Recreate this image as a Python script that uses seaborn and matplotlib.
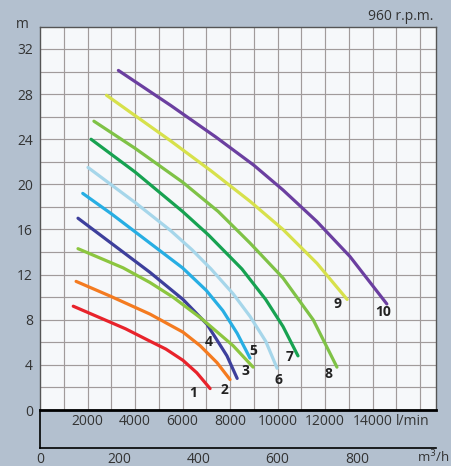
import numpy as np
import pandas as pd
import seaborn as sns
import matplotlib.pyplot as plt

# pump curves: flow in l/min, head in m
q1 = [1400, 2500, 3600, 4630, 5300, 6020, 6600, 7160]
h1 = [9.2, 8.2, 7.2, 6.1, 5.4, 4.4, 3.3, 1.9]
q2 = [1520, 2950, 4630, 6020, 6740, 7450, 8000]
h2 = [11.4, 10.1, 8.5, 6.9, 5.7, 4.2, 2.7]
q3 = [1600, 2800, 4000, 4630, 6020, 7030, 7870, 8300]
h3 = [17.0, 15.1, 13.2, 12.2, 9.8, 7.6, 4.8, 2.8]
q4 = [1600, 3500, 4630, 5600, 6800, 8130, 8970]
h4 = [14.3, 12.6, 11.3, 10.0, 8.1, 5.7, 3.8]
q5 = [1800, 3000, 4000, 5000, 6000, 7000, 7700, 8300, 8840]
h5 = [19.2, 17.4, 15.8, 14.2, 12.6, 10.6, 8.8, 6.8, 4.6]
q6 = [2020, 4000, 5500, 6400, 7200, 8130, 8840, 9500, 9980]
h6 = [21.5, 18.4, 15.9, 14.2, 12.5, 10.3, 8.3, 6.1, 3.7]
q7 = [2150, 4000, 6000, 7100, 8500, 9500, 10230, 10860]
h7 = [24.0, 21.1, 17.6, 15.5, 12.5, 9.8, 7.4, 4.8]
q8 = [2270, 4000, 6000, 7500, 8840, 10230, 11500, 12500]
h8 = [25.6, 23.2, 20.2, 17.6, 14.8, 11.7, 8.0, 3.8]
q9 = [2800, 4000, 5470, 7200, 8840, 10230, 11660, 12930]
h9 = [27.9, 26.1, 23.9, 21.2, 18.5, 16.0, 13.0, 9.8]
q10 = [3300, 5500, 7400, 9000, 10230, 11660, 13050, 14600]
h10 = [30.1, 27.0, 24.2, 21.7, 19.5, 16.7, 13.6, 9.4]

curve_names = ["1", "2", "3", "4", "5", "6", "7", "8", "9", "10"]
curve_colors = ["#e8232b", "#f47b20", "#3d3f9c", "#8cc63f", "#27aee3",
                "#a6d6ea", "#17a251", "#7fc246", "#d7e14b", "#6b3fa0"]

# where the curve numbers sit (l/min, m)
label_q = [6440, 7750, 8630, 7120, 8970, 10060, 10490, 12130, 12520, 14440]
label_h = [1.5, 1.8, 3.5, 6.0, 5.2, 2.7, 4.7, 3.2, 9.4, 8.7]

lmin_ticks = [2000, 4000, 6000, 8000, 10000, 12000, 14000]
m3h_ticks = [0, 200, 400, 600, 800]
head_ticks = [0, 4, 8, 12, 16, 20, 24, 28, 32]

flows = [q1, q2, q3, q4, q5, q6, q7, q8, q9, q10]
heads = [h1, h2, h3, h4, h5, h6, h7, h8, h9, h10]
rows = []
for name, q, h in zip(curve_names, flows, heads):
    for a, b in zip(q, h):
        rows.append({"curve": name, "flow": a, "head": b})
df = pd.DataFrame(rows)

sns.set_style("white")
plt.rcParams["font.family"] = ["Open Sans", "DejaVu Sans"]

bg = "#b3c0cf"
fig = plt.figure(figsize=(4.51, 4.66), dpi=100, facecolor=bg)
ax = fig.add_axes([40 / 451, 1 - 410 / 466, 396 / 451, 383 / 466])
ax.set_facecolor("#f6f8fa")

sns.lineplot(data=df, x="flow", y="head", hue="curve", hue_order=curve_names,
             palette=curve_colors, sort=False, estimator=None, lw=2.3,
             legend=False, ax=ax, zorder=3)

ax.set_xlim(0, 16670)
ax.set_ylim(0, 33.95)
ax.set_xlabel("")
ax.set_ylabel("")

# grid every 1000 l/min and every 2 m
ax.set_xticks(lmin_ticks)
ax.set_xticklabels([str(t) for t in lmin_ticks])
ax.set_xticks(np.arange(1000, 16001, 1000), minor=True)
ax.set_yticks(head_ticks)
ax.set_yticklabels([str(t) for t in head_ticks])
ax.set_yticks(np.arange(2, 34, 2), minor=True)
ax.grid(which="both", color="#a19b9b", lw=0.85)
ax.set_axisbelow(True)
ax.tick_params(which="both", length=0, labelsize=10, colors="#333333")
ax.tick_params(axis="x", pad=3)
ax.tick_params(axis="y", pad=5)

for side in ["top", "right", "left"]:
    ax.spines[side].set_color("#555555")
    ax.spines[side].set_linewidth(1.0)
ax.spines["bottom"].set_color("black")
ax.spines["bottom"].set_linewidth(2.0)

for name, x, y in zip(curve_names, label_q, label_h):
    ax.text(x, y, name, ha="center", va="center", fontsize=10,
            fontweight="bold", color="#222222", zorder=4)

ax.text(15700, -1.05, "l/min", ha="center", va="center", fontsize=10,
        color="#333333", clip_on=False)

# second scale in m3/h below
ax2 = fig.add_axes([40 / 451, 1 - 448 / 466, 396 / 451, 38 / 466])
ax2.set_facecolor("none")
ax2.set_xlim(0, 1000)
ax2.set_ylim(0, 1)
ax2.set_xticks(m3h_ticks)
ax2.set_xticklabels([str(t) for t in m3h_ticks])
ax2.set_yticks([])
ax2.tick_params(axis="x", length=2, width=0.8, pad=1, labelsize=10,
                colors="#333333")
for side in ["top", "right"]:
    ax2.spines[side].set_visible(False)
ax2.spines["left"].set_color("black")
ax2.spines["bottom"].set_color("black")
ax2.spines["left"].set_linewidth(1.2)
ax2.spines["bottom"].set_linewidth(1.2)

fig.text(450 / 451, 1 - 457 / 466, "m$^3$/h", ha="right", va="center",
         fontsize=9.5, color="#333333")
fig.text(22 / 451, 1 - 25 / 466, "m", ha="center", va="center", fontsize=10,
         color="#333333")
fig.text(433 / 451, 1 - 17 / 466, "960 r.p.m.", ha="right", va="center",
         fontsize=10, color="#333333")

fig.savefig("out.png", dpi=100, facecolor=bg)
